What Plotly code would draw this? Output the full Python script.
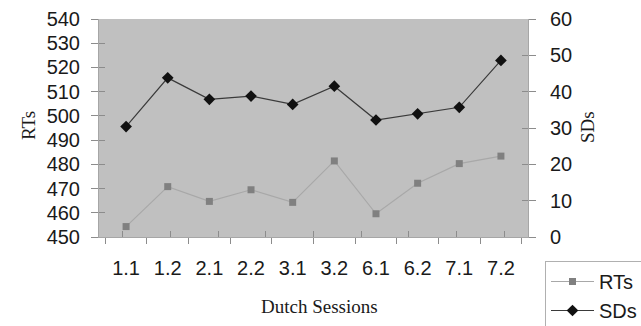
import plotly.graph_objects as go

sessions = ["1.1", "1.2", "2.1", "2.2", "3.1", "3.2", "6.1", "6.2", "7.1", "7.2"]
rts = [454.3, 470.8, 464.7, 469.5, 464.3, 481.4, 459.6, 472.2, 480.3, 483.4]
sds = [30.4, 43.8, 37.9, 38.8, 36.5, 41.5, 32.2, 33.9, 35.7, 48.6]

W, H = 641, 326
L, R, T, B = 99, 528, 19, 237
pw, ph = R - L, B - T

def px_x(p):
    return (p - L) / pw

def px_y(p):
    return (B - p) / ph

SANS = "Liberation Sans, Arial, sans-serif"
SERIF = "Liberation Serif, Times New Roman, serif"
AXC = "#a6a6a6"
TKC = "#8c8c8c"
TXT = "#1a1a1a"
FS = 20

fig = go.Figure()
fig.add_trace(go.Scatter(
    x=sessions, y=rts, name="RTs", mode="lines+markers",
    line=dict(color="#a8a8a8", width=1.2),
    marker=dict(symbol="square", size=7, color="#808080"),
    legendgroup="a", yaxis="y", xaxis="x"))
fig.add_trace(go.Scatter(
    x=sessions, y=sds, name="SDs", mode="lines+markers",
    line=dict(color="#3a3a3a", width=1.2),
    marker=dict(symbol="diamond", size=9, color="#111111"),
    legendgroup="b", yaxis="y2", xaxis="x"))
# invisible helper traces to draw inward (crossing) ticks
fig.add_trace(go.Scatter(x=sessions, y=[None] * len(sessions), xaxis="x3", yaxis="y3",
                         showlegend=False, hoverinfo="skip", mode="lines"))
fig.add_trace(go.Scatter(x=sessions, y=[None] * len(sessions), xaxis="x3", yaxis="y4",
                         showlegend=False, hoverinfo="skip", mode="lines"))

common_y = dict(showgrid=False, zeroline=False, showline=True, linecolor=AXC, linewidth=1,
                tickcolor=TKC, ticklen=7, tickwidth=1, automargin=False)

title_font = dict(family=SERIF, size=19, color=TXT)

fig.update_layout(
    width=W, height=H,
    margin=dict(l=L, r=W - R, t=T, b=H - B, pad=0, autoexpand=False),
    paper_bgcolor="white", plot_bgcolor="#c0c0c0",
    font=dict(family=SANS, size=FS, color=TXT),
    xaxis=dict(type="category", categoryorder="array", categoryarray=sessions,
               showgrid=False, zeroline=False, showline=True, linecolor=AXC,
               ticks="outside", tickson="boundaries", ticklen=6, tickcolor=TKC,
               ticklabelstandoff=13, tickfont=dict(size=FS, color=TXT), automargin=False),
    xaxis3=dict(type="category", categoryorder="array", categoryarray=sessions,
                overlaying="x", showgrid=False, zeroline=False, showline=False,
                ticks="inside", tickson="boundaries", ticklen=6, tickcolor=TKC,
                showticklabels=False, anchor="y3", automargin=False),
    yaxis=dict(range=[450, 540], tickvals=list(range(450, 541, 10)), ticks="outside",
               ticklabelstandoff=7, tickfont=dict(size=FS, color=TXT), **common_y),
    yaxis3=dict(range=[450, 540], tickvals=list(range(450, 541, 10)), overlaying="y",
                side="left", anchor="x3", ticks="inside", showticklabels=False,
                showgrid=False, zeroline=False, showline=False, tickcolor=TKC, ticklen=6,
                automargin=False),
    yaxis2=dict(range=[0, 60], tickvals=list(range(0, 61, 10)), overlaying="y", side="right",
                ticks="outside", ticklabelstandoff=10, tickfont=dict(size=FS, color=TXT),
                **common_y),
    yaxis4=dict(range=[0, 60], tickvals=list(range(0, 61, 10)), overlaying="y", side="right",
                anchor="x3", ticks="inside", showticklabels=False,
                showgrid=False, zeroline=False, showline=False, tickcolor=TKC, ticklen=6,
                automargin=False),
    showlegend=True,
    legend=dict(x=px_x(545), y=px_y(261), xanchor="left", yanchor="top",
                bordercolor="#b0b0b0", borderwidth=1, bgcolor="white",
                font=dict(size=FS, color=TXT), itemwidth=43,
                tracegroupgap=9, traceorder="normal"),
    annotations=[
        dict(text="RTs", x=px_x(28), y=px_y(126), xref="paper", yref="paper",
             xanchor="center", yanchor="middle",
             showarrow=False, textangle=-90, font=title_font),
        dict(text="SDs", x=px_x(587), y=px_y(127), xref="paper", yref="paper",
             xanchor="center", yanchor="middle",
             showarrow=False, textangle=-90, font=title_font),
        dict(text="Dutch Sessions", x=px_x(319), y=px_y(306), xref="paper", yref="paper",
             xanchor="center", yanchor="middle",
             showarrow=False, font=title_font),
    ],
)

fig.write_html("out.html", config={"displayModeBar": False},
               post_script="document.body.style.margin='0';document.body.style.overflow='hidden';")
